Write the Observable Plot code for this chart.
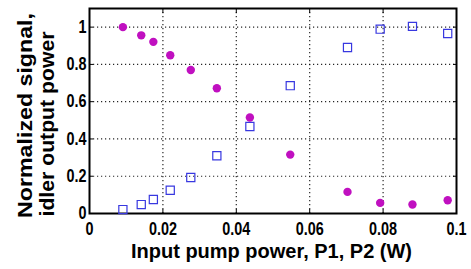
<!DOCTYPE html>
<html><head><meta charset="utf-8">
<script src="https://cdn.jsdelivr.net/npm/d3@7"></script>
<script src="https://cdn.jsdelivr.net/npm/@observablehq/plot@0.6"></script>
<style>
body{margin:0;background:#fff;}
#chart{position:relative;width:471px;height:269px;}
svg text{font-weight:bold;}
</style>
</head><body><div id="chart"></div>
<script>
const pumpPower = [0.0091,0.0141,0.0174,0.0220,0.0276,0.0347,0.0437,0.0547,0.0703,0.0792,0.0880,0.0976];
const signalPower = [1.000,0.956,0.921,0.849,0.770,0.672,0.515,0.316,0.116,0.057,0.048,0.071];
const idlerPower = [0.021,0.048,0.075,0.125,0.193,0.310,0.467,0.686,0.891,0.989,1.004,0.966];
const xTicks = [0,0.02,0.04,0.06,0.08,0.1];
const yTicks = [0,0.2,0.4,0.6,0.8,1];
const xLabel = "Input pump power, P1, P2 (W)";
const yLabelLines = ["Normalized signal,","idler output power"];

const signal = pumpPower.map((x,i)=>({x, y: signalPower[i]}));
const idler = pumpPower.map((x,i)=>({x, y: idlerPower[i]}));
const fmt = d => String(+d.toFixed(4));
const font = "'Liberation Sans', Arial, sans-serif";
const blank = () => "";

const plot = Plot.plot({
  width: 471, height: 269,
  marginLeft: 89, marginRight: 15, marginTop: 8, marginBottom: 56,
  style: {fontSize: "18px", fontFamily: font, fontWeight: "bold", color: "#000"},
  x: {domain: [0, 0.1]},
  y: {domain: [0, 1.1]},
  marks: [
    Plot.gridX(xTicks.slice(1,-1), {stroke: "#000", strokeOpacity: 0.85, strokeDasharray: "1.2,2.8", strokeWidth: 1.2}),
    Plot.gridY(yTicks.slice(1), {stroke: "#000", strokeOpacity: 0.85, strokeDasharray: "1.2,2.8", strokeWidth: 1.2}),
    Plot.axisX(xTicks, {anchor: "bottom", tickSize: -4, tickPadding: 13, tickFormat: fmt, label: null, fontSize: 18, fontWeight: "bold"}),
    Plot.axisX(xTicks, {anchor: "top", tickSize: -4, tickFormat: blank, label: null}),
    Plot.axisY(yTicks, {anchor: "left", tickSize: -4, tickPadding: 7, tickFormat: fmt, label: null, fontSize: 18, fontWeight: "bold"}),
    Plot.axisY(yTicks, {anchor: "right", tickSize: -4, tickFormat: blank, label: null}),
    Plot.frame({stroke: "#000", strokeWidth: 2}),
    Plot.dot(idler, {x: "x", y: "y", symbol: "square", r: 4.6, stroke: "#3838e0", strokeWidth: 1.2, fill: "none"}),
    Plot.dot(signal, {x: "x", y: "y", symbol: "circle", r: 4.2, fill: "#c010c0", stroke: "none"})
  ]
});
document.getElementById("chart").appendChild(plot);

// condense tick labels horizontally (reference uses a narrow bold face)
const squeeze = 0.8;
Array.from(plot.querySelectorAll("text")).forEach(el => {
  if (!el.textContent) return;
  const b = el.getBBox();
  const anchor = getComputedStyle(el).textAnchor;
  let ax = anchor === "end" ? b.x + b.width : anchor === "middle" ? b.x + b.width / 2 : b.x;
  const m = el.transform && el.transform.baseVal.consolidate();
  if (m) ax = m.matrix.a * ax + m.matrix.e;
  const g = document.createElementNS("http://www.w3.org/2000/svg", "g");
  g.setAttribute("transform", `translate(${ax},0) scale(${squeeze},1) translate(${-ax},0)`);
  el.parentNode.insertBefore(g, el);
  g.appendChild(el);
});

// axis titles
const svg = d3.select(plot);
svg.append("text")
  .attr("x", 271.5).attr("y", 258)
  .attr("text-anchor", "middle")
  .attr("font-family", font)
  .attr("font-size", 20).attr("font-weight", "bold").attr("fill", "#000")
  .attr("textLength", 281).attr("lengthAdjust", "spacingAndGlyphs")
  .text(xLabel);
const yLens = [205, 185];
const yCenters = [115.5, 124];
yLabelLines.forEach((t,i) => {
  svg.append("text")
    .attr("transform", `translate(${32 + i*22},${yCenters[i]}) rotate(-90)`)
    .attr("text-anchor", "middle")
    .attr("font-family", font)
    .attr("font-size", 21).attr("font-weight", "bold").attr("fill", "#000")
    .attr("textLength", yLens[i]).attr("lengthAdjust", "spacingAndGlyphs")
    .text(t);
});
</script>
</body></html>
